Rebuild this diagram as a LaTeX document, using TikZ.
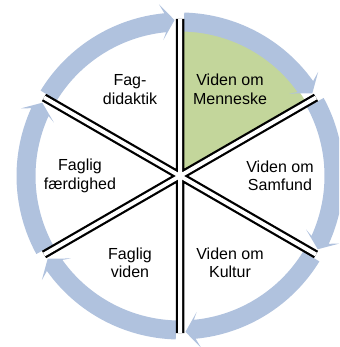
\documentclass[tikz,border=0pt]{standalone}
\usepackage{fontspec}
\setmainfont{Liberation Sans}
\usetikzlibrary{positioning}
\definecolor{ringblue}{RGB}{176,194,222}
\definecolor{leafgreen}{RGB}{195,214,155}

\begin{document}
\begin{tikzpicture}[x=1pt, y=1pt, line cap=butt]
   \useasboundingbox (-180,-171) rectangle (159,176);
   \clip (-180,-171) rectangle (159,176);
   \begin{scope}[every node/.style={align=center,font=\fontsize{16}{18.5}\selectfont}]

% green wedge
\fill [leafgreen] (0,0) -- (90:146) arc [start angle=90, end angle=30, radius=146] -- cycle;

% arrows round the ring
\foreach \a in {90,30,-30,-90,-150,-210}
   \fill [ringblue] ({\a-1.5}:163.5) arc [start angle=\a-1.5, end angle=\a-54.5, radius=163.5]
      -- ({\a-53}:173) -- ({\a-58}:156) -- ({\a-53}:137) -- ({\a-54.5}:144.5)
      arc [start angle=\a-54.5, end angle=\a-1.5, radius=144.5] -- cycle;

% dividing lines
\foreach \a [count=\i] in {90,30,-30,-90,-150,-210}
   \coordinate (e\i) at (\a:157);
\draw [line width=8.5] (e1) -- (e4) (e2) -- (e5) (e3) -- (e6);
\draw [white, line width=4] (e1) -- (e4) (e2) -- (e5) (e3) -- (e6);

\foreach \ang/\name/\txt in {120/didaktik/Fag-\\didaktik, 60/menneske/Viden om\\Menneske,
      0/samfund/Viden om\\Samfund, -60/kultur/Viden om\\Kultur,
      -120/viden/Faglig\\viden, 180/faerdighed/Faglig\\færdighed}
   \node (\name) at (\ang:100) {\txt};
  \end{scope}
\end{tikzpicture}
\end{document}
